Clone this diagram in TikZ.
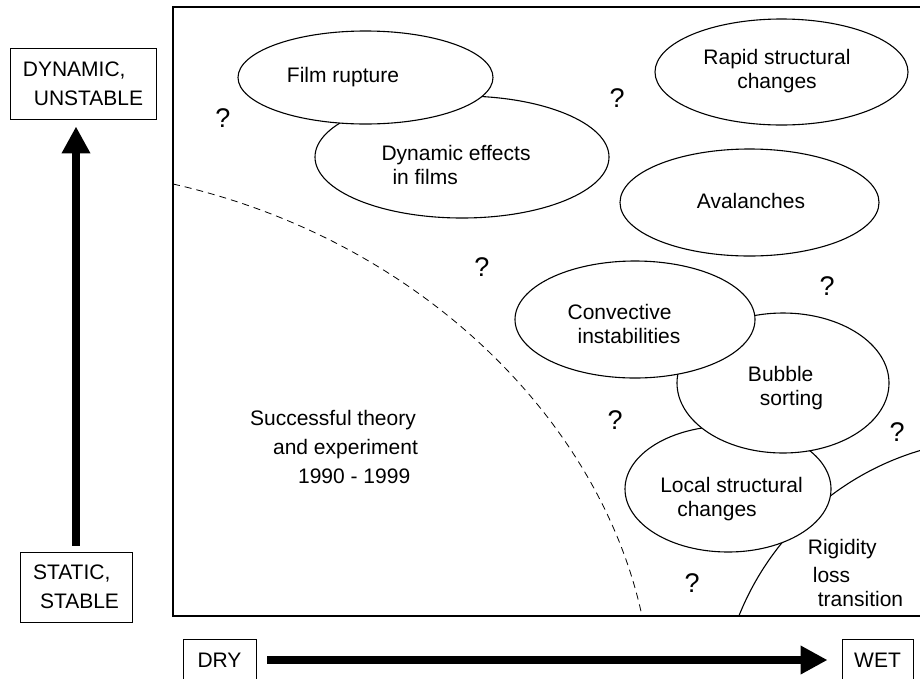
\documentclass[tikz,border=0pt]{standalone}
\usepackage{fontspec}
\setmainfont{Liberation Sans}
\usetikzlibrary{shapes.geometric,arrows.meta}

\begin{document}
\begin{tikzpicture}[x=1pt,y=-1pt]
  \tikzstyle{blob}=[ellipse,draw,fill=white,line width=1.1pt,inner sep=0]
  \tikzstyle{lbl}=[font=\fontsize{21}{24}\selectfont,inner sep=0,align=left]
  \tikzstyle{qmark}=[font=\fontsize{27}{30}\selectfont,inner sep=0]
  \tikzstyle{axisbox}=[rectangle,draw,line width=0.9pt,font=\fontsize{21}{29}\selectfont,align=left,inner sep=0]
  \tikzstyle{bigarrow}=[line width=8pt,-{Triangle[length=27pt,width=27pt]}]
  \useasboundingbox (0,0) rectangle (920,678);
  % frame and border of the known region
  \draw[line width=2pt] (920,7) -- (173,7) -- (173,616) -- (920,616);
  \draw[dash pattern=on 7pt off 5pt,line width=0.8pt] (173,184) .. controls (420,240) and (600,420) .. (642,616);
  \begin{scope}
    \clip (173,7) rectangle (920,616);
    \draw[line width=1.1pt] (1000,720) circle[radius=281];
  \end{scope}
  % regimes
  \node[blob,minimum width=206pt,minimum height=126pt] (local) at (728,489) {};
  \node[blob,minimum width=212pt,minimum height=140pt] (bubble) at (783,383) {};
  \node[blob,minimum width=240pt,minimum height=117pt] (conv) at (635,319.5) {};
  \node[blob,minimum width=294pt,minimum height=122pt] (dyn) at (462,157) {};
  \node[blob,minimum width=255pt,minimum height=93pt] (film) at (365.5,77.5) {};
  \node[blob,minimum width=253pt,minimum height=106pt] (rapid) at (781.5,72) {};
  \node[blob,minimum width=259pt,minimum height=107pt] (aval) at (749.5,202.5) {};
  \node[lbl] (filmtxt) at (343,77) {Film rupture};
  \node[lbl] (dyntxt) at (456,165) {Dynamic effects\\\hspace*{11pt}in films};
  \node[lbl,align=center] (rapidtxt) at (777,71.5) {Rapid structural\\changes};
  \node[lbl] (avaltxt) at (751,201) {Avalanches};
  \node[lbl] (convtxt) at (624,323.5) {Convective\\\hspace*{10pt}instabilities};
  \node[lbl] (bubbletxt) at (785.5,388.5) {Bubble\\\hspace*{12pt}sorting};
  \node[lbl] (localtxt) at (731.5,499) {Local structural\\\hspace*{17pt}changes};
  \node[lbl] (rigidtxt) at (855.5,572.5) {Rigidity\\[4pt]\hspace*{5pt}loss\\\hspace*{10pt}transition};
  \node[lbl,font=\fontsize{21}{29}\selectfont] (theorytxt) at (334,447) {Successful theory\\\hspace*{23pt}and experiment\\\hspace*{48pt}1990 - 1999};
  % open questions
  \node[qmark] (q1) at (223,118) {?};
  \node[qmark] (q2) at (617,98) {?};
  \node[qmark] (q3) at (482,267) {?};
  \node[qmark] (q4) at (827,286) {?};
  \node[qmark] (q5) at (615,420) {?};
  \node[qmark] (q6) at (897,432) {?};
  \node[qmark] (q7) at (692,583) {?};
  % axes
  \node[axisbox,minimum width=146pt,minimum height=71pt] (dynamic) at (83,83.5) {DYNAMIC,\\\hspace*{11pt}UNSTABLE};
  \node[axisbox,minimum width=112pt,minimum height=70pt] (static) at (76,587) {STATIC,\\\hspace*{7pt}STABLE};
  \node[axisbox,minimum width=73pt,minimum height=42pt] (dry) at (219.5,660) {DRY};
  \node[axisbox,minimum width=71pt,minimum height=42pt] (wet) at (877.5,660) {WET};
  \draw[bigarrow,shorten <=6pt,shorten >=7pt] (static.north) -- (static.north |- dynamic.south);
  \draw[bigarrow,shorten <=11pt,shorten >=14pt] (dry.east) -- (wet.west);
\end{tikzpicture}
\end{document}
